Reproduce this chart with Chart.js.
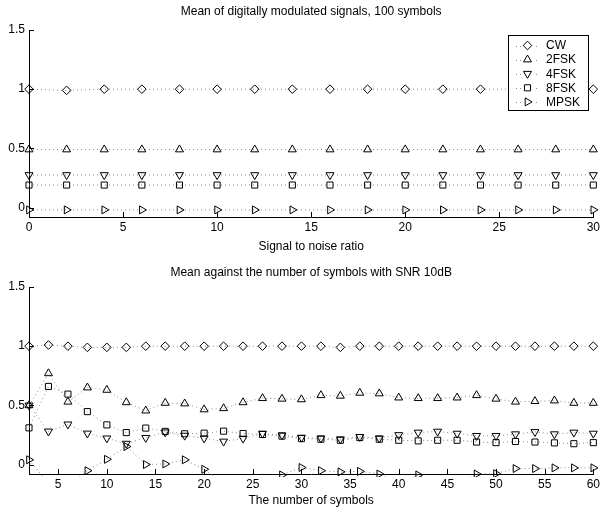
<!DOCTYPE html>
<html><head><meta charset="utf-8">
<script src="https://cdn.jsdelivr.net/npm/chart.js@4.4.0/dist/chart.umd.min.js"></script>
<style>
html,body{margin:0;padding:0;background:#fff;}
#wrap{position:relative;width:600px;height:508px;overflow:hidden;}
.c{position:absolute;left:0;width:600px;height:254px;}
</style></head><body>
<div id="wrap">
<div class="c" style="top:0"><canvas id="topChart" width="600" height="254"></canvas></div>
<div class="c" style="top:254px"><canvas id="botChart" width="600" height="254"></canvas></div>
</div>
<script>
// ---- data ----
const seriesNames = ['CW', '2FSK', '4FSK', '8FSK', 'MPSK'];

const snrValues = [0, 2, 4, 6, 8, 10, 12, 14, 16, 18, 20, 22, 24, 26, 28, 30];
const topCW   = [1.00, 0.99, 1.00, 1.00, 1.00, 1.00, 1.00, 1.00, 1.00, 1.00, 1.00, 1.00, 1.00, 1.00, 1.00, 1.00];
const top2FSK = [0.49, 0.49, 0.49, 0.49, 0.49, 0.49, 0.49, 0.49, 0.49, 0.49, 0.49, 0.49, 0.49, 0.49, 0.49, 0.49];
const top4FSK = [0.275, 0.275, 0.275, 0.275, 0.275, 0.275, 0.275, 0.275, 0.275, 0.275, 0.275, 0.275, 0.275, 0.275, 0.275, 0.275];
const top8FSK = [0.19, 0.19, 0.19, 0.19, 0.19, 0.19, 0.19, 0.19, 0.19, 0.19, 0.19, 0.19, 0.19, 0.19, 0.19, 0.19];
const topMPSK = [-0.02, -0.02, -0.02, -0.02, -0.02, -0.02, -0.02, -0.02, -0.02, -0.02, -0.02, -0.02, -0.02, -0.02, -0.02, -0.02];

const symbolCounts = [2, 4, 6, 8, 10, 12, 14, 16, 18, 20, 22, 24, 26, 28, 30, 32, 34, 36, 38, 40, 42, 44, 46, 48, 50, 52, 54, 56, 58, 60];
const botCW   = [1.00, 1.01, 1.00, 0.99, 0.99, 0.99, 1.00, 1.00, 1.00, 1.00, 1.00, 1.00, 1.00, 1.00, 1.00, 1.00, 0.99, 1.00, 1.00, 1.00, 1.00, 1.00, 1.00, 1.00, 1.00, 1.00, 1.00, 1.00, 1.00, 1.00];
const bot2FSK = [0.50, 0.77, 0.53, 0.65, 0.63, 0.525, 0.455, 0.52, 0.515, 0.465, 0.475, 0.525, 0.56, 0.555, 0.55, 0.585, 0.58, 0.605, 0.60, 0.565, 0.56, 0.56, 0.565, 0.585, 0.555, 0.53, 0.535, 0.54, 0.52, 0.52];
const bot4FSK = [0.50, 0.28, 0.34, 0.263, 0.222, 0.177, 0.226, 0.273, 0.245, 0.222, 0.195, 0.22, 0.262, 0.248, 0.228, 0.222, 0.214, 0.234, 0.222, 0.25, 0.271, 0.279, 0.262, 0.243, 0.243, 0.257, 0.276, 0.257, 0.271, 0.262];
const bot8FSK = [0.31, 0.66, 0.595, 0.447, 0.335, 0.27, 0.308, 0.28, 0.26, 0.265, 0.282, 0.262, 0.254, 0.24, 0.219, 0.214, 0.205, 0.228, 0.214, 0.205, 0.2, 0.205, 0.205, 0.19, 0.185, 0.195, 0.19, 0.183, 0.176, 0.185];
const botMPSK = [0.04, -0.16, -0.16, -0.052, 0.044, 0.152, 0.0, 0.005, 0.04, -0.04, -0.16, -0.16, -0.16, -0.088, -0.025, -0.052, -0.062, -0.058, -0.08, -0.16, -0.088, -0.16, -0.16, -0.08, -0.077, -0.034, -0.034, -0.028, -0.028, -0.028];

const topXTicks = [0, 5, 10, 15, 20, 25, 30];
const botXTicks = [5, 10, 15, 20, 25, 30, 35, 40, 45, 50, 55, 60];
const yTicks = [0, 0.5, 1, 1.5];

const topTitle = 'Mean of digitally modulated signals, 100 symbols';
const topXLabel = 'Signal to noise ratio';
const botTitle = 'Mean against the number of symbols with SNR 10dB';
const botXLabel = 'The number of symbols';

// ---- styles ----
const markerStyles = [
  {pointStyle: 'rectRot', rotation: 0, radius: 4.3},
  {pointStyle: 'triangle', rotation: 0, radius: 4.6},
  {pointStyle: 'triangle', rotation: 180, radius: 4.6},
  {pointStyle: 'rect', rotation: 0, radius: 4.3},
  {pointStyle: 'triangle', rotation: 90, radius: 4.6}
];
const FONT = '"Liberation Sans", Arial, Helvetica, sans-serif';
Chart.defaults.font.family = FONT;
Chart.defaults.color = '#000';

function makeDatasets(xs, ys) {
  return ys.map((arr, i) => ({
    label: seriesNames[i],
    data: arr.map((v, j) => ({x: xs[j], y: v})),
    borderColor: '#8a8a8a',
    borderWidth: 1,
    borderDash: [1, 3],
    pointStyle: markerStyles[i].pointStyle,
    pointRotation: markerStyles[i].rotation,
    pointRadius: markerStyles[i].radius,
    pointBorderColor: '#000',
    pointBackgroundColor: 'rgba(0,0,0,0)',
    pointBorderWidth: 1,
    tension: 0,
    fill: false,
    clip: {left: 8, right: 8, top: 8, bottom: 3}
  }));
}

const innerTicks = {
  id: 'innerTicks',
  afterDraw(chart) {
    const {ctx, chartArea: a, scales: {x, y}} = chart;
    ctx.save();
    ctx.strokeStyle = '#000';
    ctx.lineWidth = 1;
    ctx.beginPath();
    x.ticks.forEach(t => {
      const px = Math.round(x.getPixelForValue(t.value)) + 0.5;
      ctx.moveTo(px, a.bottom);
      ctx.lineTo(px, a.bottom - 5);
    });
    y.ticks.forEach(t => {
      const py = Math.round(y.getPixelForValue(t.value)) + 0.5;
      ctx.moveTo(a.left, py);
      ctx.lineTo(a.left + 5, py);
    });
    ctx.stroke();
    ctx.restore();
  }
};

const boxLegend = {
  id: 'boxLegend',
  afterDatasetsDraw(chart, args, opts) {
    if (!opts || !opts.show) return;
    const ctx = chart.ctx;
    const L = 508.5, T = 35.5, W = 80, H = 75;
    ctx.save();
    ctx.fillStyle = '#fff';
    ctx.fillRect(L, T, W, H);
    ctx.strokeStyle = '#000';
    ctx.lineWidth = 1;
    ctx.strokeRect(L, T, W, H);
    chart.data.datasets.forEach((ds, i) => {
      const cy = 45.5 + i * 14.1;
      ctx.save();
      ctx.strokeStyle = ds.borderColor;
      ctx.setLineDash(ds.borderDash);
      ctx.beginPath();
      ctx.moveTo(516, Math.round(cy) + 0.5);
      ctx.lineTo(539, Math.round(cy) + 0.5);
      ctx.stroke();
      ctx.restore();
      ctx.fillStyle = '#fff';
      ctx.fillRect(522, cy - 5, 11, 10);
      ctx.strokeStyle = '#000';
      ctx.fillStyle = 'rgba(0,0,0,0)';
      ctx.lineWidth = 1;
      Chart.helpers.drawPoint(ctx, {pointStyle: ds.pointStyle, rotation: ds.pointRotation, radius: ds.pointRadius, borderWidth: 1}, 527.5, cy);
      ctx.fillStyle = '#000';
      ctx.font = '12px ' + FONT;
      ctx.textBaseline = 'middle';
      ctx.textAlign = 'left';
      ctx.fillText(ds.label, 546, cy + 0.5);
    });
    ctx.restore();
  }
};

const hiddenGrid = {display: true, color: 'rgba(0,0,0,0)', drawOnChartArea: false, drawTicks: true};

function makeChart(id, cfg) {
  return new Chart(document.getElementById(id), {
    type: 'line',
    data: {datasets: makeDatasets(cfg.xs, cfg.ys)},
    options: {
      responsive: false,
      animation: false,
      devicePixelRatio: 1,
      events: [],
      layout: {padding: {left: 0, right: 6, top: 0, bottom: 0}},
      plugins: {
        legend: {display: false},
        tooltip: {enabled: false},
        title: {display: true, text: cfg.title, fullSize: false, color: '#000',
                font: {size: 12, weight: 'normal'}, padding: cfg.titlePad},
        boxLegend: {show: cfg.legend}
      },
      scales: {
        x: {
          type: 'linear', min: cfg.xMin, max: cfg.xMax,
          afterBuildTicks: s => { s.ticks = cfg.xTicks.map(v => ({value: v})); },
          afterFit: s => { s.height = cfg.xH; },
          grid: Object.assign({tickLength: 3}, hiddenGrid),
          border: {display: true, color: '#000', width: 1},
          ticks: {color: '#000', font: {size: 12}, padding: 0, maxRotation: 0, autoSkip: false,
                  callback: v => String(v)},
          title: {display: true, text: cfg.xLabel, color: '#000', font: {size: 12},
                  padding: {top: 0, bottom: cfg.xTitlePad}}
        },
        y: {
          type: 'linear', min: -0.08, max: 1.5,
          afterBuildTicks: s => { s.ticks = yTicks.map(v => ({value: v})); },
          afterFit: s => { s.width = 29; },
          grid: Object.assign({tickLength: 4}, hiddenGrid),
          border: {display: true, color: '#000', width: 1},
          ticks: {color: '#000', font: {size: 12}, padding: 0, callback: v => String(v)}
        }
      }
    },
    plugins: [innerTicks, boxLegend]
  });
}

makeChart('topChart', {
  xs: snrValues, ys: [topCW, top2FSK, top4FSK, top8FSK, topMPSK],
  xMin: 0, xMax: 30, xTicks: topXTicks, title: topTitle, xLabel: topXLabel,
  titlePad: {top: 4.8, bottom: 10.8}, xH: 37, xTitlePad: 0, legend: true
});
makeChart('botChart', {
  xs: symbolCounts, ys: [botCW, bot2FSK, bot4FSK, bot8FSK, botMPSK],
  xMin: 2, xMax: 60, xTicks: botXTicks, title: botTitle, xLabel: botXLabel,
  titlePad: {top: 11.8, bottom: 6.8}, xH: 34, xTitlePad: 0, legend: false
});
</script>
</body></html>
